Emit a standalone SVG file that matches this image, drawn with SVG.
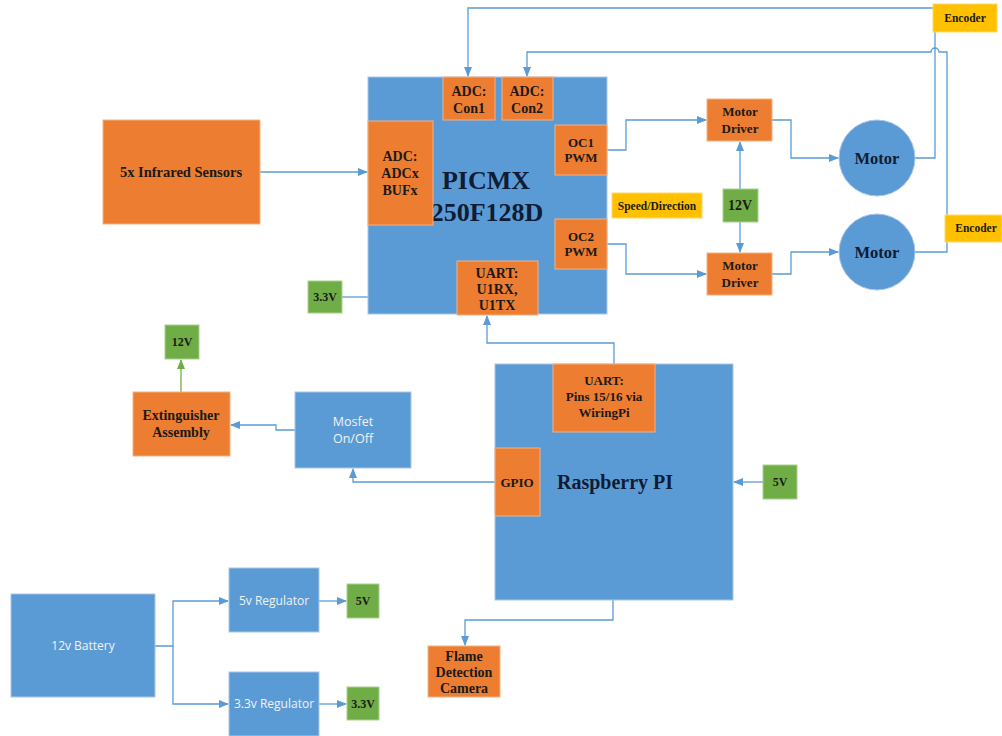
<svg xmlns="http://www.w3.org/2000/svg" width="1002" height="736" viewBox="0 0 1002 736">
<defs>
<marker id="ab" markerWidth="10" markerHeight="8" refX="9" refY="4" orient="auto" markerUnits="userSpaceOnUse">
<path d="M0,0 L10,4 L0,8 z" fill="#5B9BD5"/>
</marker>
<marker id="ag" markerWidth="10" markerHeight="8" refX="9" refY="4" orient="auto" markerUnits="userSpaceOnUse">
<path d="M0,0 L10,4 L0,8 z" fill="#70AD47"/>
</marker>
</defs>
<style>
.b{fill:#5B9BD5;stroke:#a9c6e8;stroke-width:1}
.o{fill:#ED7D31;stroke:#f4b183;stroke-width:1}
.g{fill:#70AD47;stroke:#a9d18e;stroke-width:1}
.y{fill:#FFC000;stroke:#ffd966;stroke-width:1}
.t{font-family:"Liberation Serif",serif;font-weight:bold;fill:#1a1a1a;text-anchor:middle}
.big{font-family:"Liberation Serif",serif;font-weight:bold;fill:#0f1c33;text-anchor:middle}
.w{font-family:"Open Sans","Liberation Sans",sans-serif;fill:#f2f2f2;text-anchor:middle}
.c{fill:none;stroke:#5B9BD5;stroke-width:1.3}
.cg{fill:none;stroke:#70AD47;stroke-width:1.3}
</style>
<rect width="1002" height="736" fill="#ffffff"/>

<g id="connectors">
<path class="c" d="M933,8 H468 V76" marker-end="url(#ab)"/>
<path class="c" d="M915,158 H935 V32"/>
<path class="c" d="M915,252 H947 V52 H939 A4,4 0 0 0 931,52 H527 V76" marker-end="url(#ab)"/>
<path class="c" d="M260,172 H367" marker-end="url(#ab)"/>
<path class="c" d="M342,297 H368"/>
<path class="c" d="M607,150 H626 V120 H706" marker-end="url(#ab)"/>
<path class="c" d="M772,120 H791 V158 H838" marker-end="url(#ab)"/>
<path class="c" d="M607,244 H626 V274 H706" marker-end="url(#ab)"/>
<path class="c" d="M772,274 H791 V252 H838" marker-end="url(#ab)"/>
<path class="c" d="M740,189 V142" marker-end="url(#ab)"/>
<path class="c" d="M740,222 V252" marker-end="url(#ab)"/>
<path class="c" d="M614,364 V343 H487 V316" marker-end="url(#ab)"/>
<path class="cg" d="M181,392 V360" marker-end="url(#ag)"/>
<path class="c" d="M295,430 H276 V425 H231" marker-end="url(#ab)"/>
<path class="c" d="M496,482 H353 V469" marker-end="url(#ab)"/>
<path class="c" d="M763,482 H734" marker-end="url(#ab)"/>
<path class="c" d="M613,600 V620 H465 V645" marker-end="url(#ab)"/>
<path class="c" d="M155,646 H173 V601 H228" marker-end="url(#ab)"/>
<path class="c" d="M173,646 V704 H228" marker-end="url(#ab)"/>
<path class="c" d="M319,601 H346" marker-end="url(#ab)"/>
<path class="c" d="M319,704 H346" marker-end="url(#ab)"/>
</g>

<g id="pic">
<rect class="b" x="368" y="77" width="239" height="237"/>
<text class="big" style="font-size:26px" x="486" y="189">PICMX</text>
<text class="big" style="font-size:26px" x="487" y="221">250F128D</text>
</g>
<g id="adc-con1">
<rect class="o" x="443" y="77" width="52" height="43"/>
<text class="t" style="font-size:14px" x="469" y="96">ADC:</text>
<text class="t" style="font-size:14px" x="469" y="113">Con1</text>
</g>
<g id="adc-con2">
<rect class="o" x="502" y="77" width="51" height="43"/>
<text class="t" style="font-size:14px" x="527" y="96">ADC:</text>
<text class="t" style="font-size:14px" x="527" y="113">Con2</text>
</g>
<g id="adc-bufx">
<rect class="o" x="368" y="121" width="65" height="104"/>
<text class="t" style="font-size:14px" x="400" y="161">ADC:</text>
<text class="t" style="font-size:14px" x="400" y="178">ADCx</text>
<text class="t" style="font-size:14px" x="400" y="195">BUFx</text>
</g>
<g id="oc1">
<rect class="o" x="555" y="125" width="52" height="50"/>
<text class="t" style="font-size:13px" x="581" y="147">OC1</text>
<text class="t" style="font-size:13px" x="581" y="162">PWM</text>
</g>
<g id="oc2">
<rect class="o" x="555" y="219" width="52" height="50"/>
<text class="t" style="font-size:13px" x="581" y="241">OC2</text>
<text class="t" style="font-size:13px" x="581" y="256">PWM</text>
</g>
<g id="uart-pic">
<rect class="o" x="457" y="261" width="81" height="54"/>
<text class="t" style="font-size:14px" x="497" y="278">UART:</text>
<text class="t" style="font-size:14px" x="497" y="294">U1RX,</text>
<text class="t" style="font-size:14px" x="497" y="310">U1TX</text>
</g>

<g id="encoder1">
<rect class="y" x="933" y="4" width="64" height="28"/>
<text class="t" style="font-size:11.5px" x="965" y="22">Encoder</text>
</g>
<g id="encoder2">
<rect class="y" x="945" y="215" width="57" height="27"/>
<text class="t" style="font-size:11.5px" x="976" y="232">Encoder</text>
</g>
<g id="driver1">
<rect class="o" x="707" y="99" width="65" height="42"/>
<text class="t" style="font-size:13px" x="740" y="116">Motor</text>
<text class="t" style="font-size:13px" x="740" y="133">Driver</text>
</g>
<g id="driver2">
<rect class="o" x="707" y="253" width="65" height="42"/>
<text class="t" style="font-size:13px" x="740" y="270">Motor</text>
<text class="t" style="font-size:13px" x="740" y="287">Driver</text>
</g>
<g id="motor1">
<circle cx="877" cy="158" r="38" fill="#5B9BD5" stroke="#a9c6e8"/>
<text class="big" style="font-size:16.5px" x="877" y="164">Motor</text>
</g>
<g id="motor2">
<circle cx="877" cy="252" r="38" fill="#5B9BD5" stroke="#a9c6e8"/>
<text class="big" style="font-size:16.5px" x="877" y="258">Motor</text>
</g>
<g id="v12-motor">
<rect class="g" x="723" y="189" width="35" height="33"/>
<text class="t" style="font-size:14px" x="740" y="210">12V</text>
</g>
<g id="speed-direction">
<rect class="y" x="612" y="193" width="90" height="25"/>
<text class="t" style="font-size:11.5px" x="657" y="210">Speed/Direction</text>
</g>

<g id="infrared">
<rect class="o" x="103" y="120" width="157" height="104"/>
<text class="t" style="font-size:14.5px" x="181" y="177">5x Infrared Sensors</text>
</g>
<g id="v33-pic">
<rect class="g" x="308" y="281" width="34" height="32"/>
<text class="t" style="font-size:12px" x="325" y="301">3.3V</text>
</g>
<g id="v12-ext">
<rect class="g" x="165" y="325" width="34" height="34"/>
<text class="t" style="font-size:12px" x="182" y="346">12V</text>
</g>
<g id="extinguisher">
<rect class="o" x="133" y="392" width="97" height="64"/>
<text class="t" style="font-size:14px" x="181" y="420">Extinguisher</text>
<text class="t" style="font-size:14px" x="181" y="437">Assembly</text>
</g>
<g id="mosfet">
<rect class="b" x="295" y="392" width="116" height="76"/>
<text class="w" style="font-size:12.5px" x="353" y="426">Mosfet</text>
<text class="w" style="font-size:12.5px" x="353" y="443">On/Off</text>
</g>

<g id="raspberry">
<rect class="b" x="495" y="364" width="238" height="236"/>
<text class="big" style="font-size:20px" x="615" y="489">Raspberry PI</text>
</g>
<g id="uart-pi">
<rect class="o" x="553" y="364" width="102" height="68"/>
<text class="t" style="font-size:13px" x="604" y="385">UART:</text>
<text class="t" style="font-size:13px" x="604" y="401">Pins 15/16 via</text>
<text class="t" style="font-size:13px" x="604" y="417">WiringPi</text>
</g>
<g id="gpio">
<rect class="o" x="495" y="448" width="45" height="68"/>
<text class="t" style="font-size:13px" x="517" y="487">GPIO</text>
</g>
<g id="v5-pi">
<rect class="g" x="763" y="465" width="34" height="34"/>
<text class="t" style="font-size:12px" x="780" y="486">5V</text>
</g>
<g id="camera">
<rect class="o" x="428" y="646" width="72" height="51"/>
<text class="t" style="font-size:14px" x="464" y="661">Flame</text>
<text class="t" style="font-size:14px" x="464" y="677">Detection</text>
<text class="t" style="font-size:14px" x="464" y="693">Camera</text>
</g>

<g id="battery">
<rect class="b" x="11" y="594" width="144" height="103"/>
<text class="w" style="font-size:12px" x="83" y="650">12v Battery</text>
</g>
<g id="reg5">
<rect class="b" x="229" y="568" width="90" height="64"/>
<text class="w" style="font-size:12px" x="274" y="605">5v Regulator</text>
</g>
<g id="reg33">
<rect class="b" x="229" y="672" width="90" height="64"/>
<text class="w" style="font-size:12px" x="274" y="708">3.3v Regulator</text>
</g>
<g id="v5-out">
<rect class="g" x="347" y="584" width="32" height="34"/>
<text class="t" style="font-size:12px" x="363" y="605">5V</text>
</g>
<g id="v33-out">
<rect class="g" x="347" y="687" width="32" height="33"/>
<text class="t" style="font-size:12px" x="363" y="708">3.3V</text>
</g>
</svg>
